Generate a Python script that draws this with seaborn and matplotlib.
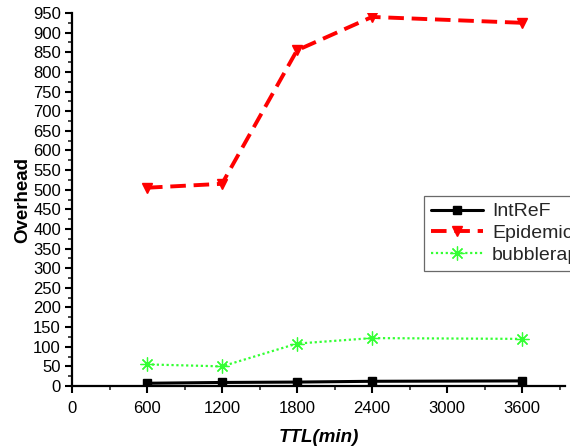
import matplotlib
matplotlib.use("Agg")
import matplotlib.pyplot as plt
import seaborn as sns
import pandas as pd
from matplotlib.ticker import MultipleLocator

sns.set_style("ticks")
plt.rcParams['font.family'] = ['Liberation Sans', 'DejaVu Sans']

ttl = [600, 1200, 1800, 2400, 3600]
intref = [7, 9, 10, 12, 13]
epidemic = [505, 515, 855, 940, 925]
bubblerap = [55, 50, 108, 122, 120]
series_names = ["IntReF", "Epidemic", "bubblerap"]

fig = plt.figure(figsize=(5.70, 4.48), dpi=100)
ax = fig.add_axes([72/570, 62/448, (565-72)/570, (386-13)/448])

styles = {
    "IntReF": dict(color="black", linestyle="-", linewidth=2.2, marker="s", markersize=5.5),
    "Epidemic": dict(color="#ff0000", linestyle=(0, (4, 2)), linewidth=2.8, marker="v", markersize=7),
    "bubblerap": dict(color="#33ff33", linestyle=(0, (1, 1.2)), linewidth=1.6, marker=(8, 2, 0), markersize=10,
                      markeredgewidth=0.9),
}
for name, vals in zip(series_names, [intref, epidemic, bubblerap]):
    df = pd.DataFrame({"TTL": ttl, "Overhead": vals})
    st = styles[name]
    sns.lineplot(data=df, x="TTL", y="Overhead", ax=ax, label=name,
                 color=st["color"], linestyle=st["linestyle"], linewidth=st["linewidth"],
                 marker=st["marker"], markersize=st["markersize"],
                 markeredgecolor=st["color"], markeredgewidth=st.get("markeredgewidth", 1),
                 markerfacecolor=st["color"])

ax.set_xlim(0, 3944)
ax.set_ylim(0, 950)
ax.xaxis.set_major_locator(MultipleLocator(600))
ax.xaxis.set_minor_locator(MultipleLocator(300))
ax.yaxis.set_major_locator(MultipleLocator(50))
ax.yaxis.set_minor_locator(MultipleLocator(25))
ax.tick_params(which="major", direction="out", length=5, width=1.5, labelsize=12, colors="black", pad=3)
ax.tick_params(axis="x", which="major", pad=6)
ax.tick_params(which="minor", direction="out", length=3, width=1.2)
for s in ["top", "right"]:
    ax.spines[s].set_visible(False)
for s in ["left", "bottom"]:
    ax.spines[s].set_linewidth(1.6)
    ax.spines[s].set_color("black")

ax.set_xlabel("TTL(min)", fontsize=13.5, fontweight="bold", fontstyle="italic", labelpad=9, color="black")
ax.set_ylabel("Overhead", fontsize=13.5, fontweight="bold", labelpad=1, color="black")

leg = ax.legend(loc="upper left", bbox_to_anchor=(424/570, 1-196/448), bbox_transform=fig.transFigure,
                fontsize=14, frameon=True, fancybox=False, edgecolor="#444444", handlelength=2.7,
                borderaxespad=0, borderpad=0.35, labelspacing=0.22, handletextpad=0.45)
leg.get_frame().set_linewidth(0.9)

fig.savefig("out.png", dpi=100)
